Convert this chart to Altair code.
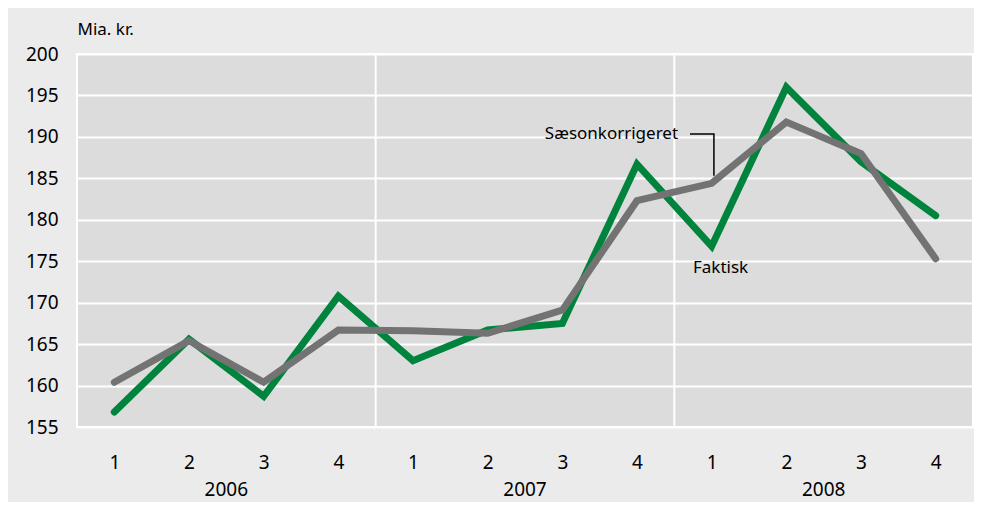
import altair as alt
import pandas as pd

quarters = ["1", "2", "3", "4"]
years = ["2006", "2007", "2008"]
faktisk = [156.8, 165.6, 158.7, 170.8, 163.0, 166.7, 167.5, 186.7, 176.8, 196.0, 187.0, 180.5]
saeson = [160.4, 165.4, 160.4, 166.7, 166.6, 166.3, 169.1, 182.3, 184.4, 191.8, 188.0, 175.3]
y_ticks = [155, 160, 165, 170, 175, 180, 185, 190, 195, 200]

FONT = "Noto Sans, sans-serif"
GREEN = "#00843d"
GREY = "#737373"

rows = []
for i, v in enumerate(faktisk):
    rows.append({"idx": i, "value": v, "serie": "Faktisk"})
for i, v in enumerate(saeson):
    rows.append({"idx": i, "value": v, "serie": "Sæsonkorrigeret"})
df = pd.DataFrame(rows)

n = len(faktisk)
xscale = alt.Scale(domain=[-0.5, n - 0.5], nice=False, zero=False)
yscale = alt.Scale(domain=[155, 200], nice=False, zero=False)

label_arr = "[" + ",".join("'%s'" % q for q in quarters) + "]"

x_axis = alt.Axis(values=list(range(n)), labelExpr=label_arr + "[datum.value % 4]",
                  grid=False, ticks=False, tickSize=0, domain=False, labelPadding=35,
                  labelBaseline="middle", labelFontSize=19, labelFont=FONT, labelColor="#000",
                  title=None)
y_axis = alt.Axis(values=y_ticks, grid=True, gridColor="white", gridWidth=2,
                  ticks=False, tickSize=0, domain=False, labelPadding=19,
                  labelFontSize=19, labelFont=FONT, labelColor="#000",
                  title="Mia. kr.", titleAngle=0, titleAlign="left", titleX=0, titleY=-25,
                  titleBaseline="middle", titleFont=FONT, titleFontSize=17,
                  titleFontWeight="normal", titleColor="#000")

sep_df = pd.DataFrame({"x": [3.5, 7.5]})
seps = alt.Chart(sep_df).mark_rule(color="white", strokeWidth=2).encode(
    x=alt.X("x:Q", scale=xscale, axis=x_axis)
)

green_line = alt.Chart(df[df.serie == "Faktisk"]).mark_line(
    strokeWidth=7, strokeCap="round", strokeJoin="miter", color=GREEN).encode(
    x=alt.X("idx:Q", scale=xscale, axis=x_axis),
    y=alt.Y("value:Q", scale=yscale, axis=y_axis),
)
grey_line = alt.Chart(df[df.serie == "Sæsonkorrigeret"]).mark_line(
    strokeWidth=7, strokeCap="round", strokeJoin="miter", color=GREY).encode(
    x=alt.X("idx:Q", scale=xscale),
    y=alt.Y("value:Q", scale=yscale),
)

leader_df = pd.DataFrame({"x": [7.71, 8.03, 8.03], "y": [190.35, 190.35, 185.3], "o": [0, 1, 2]})
leader = alt.Chart(leader_df).mark_line(color="black", strokeWidth=1.5, strokeJoin="miter").encode(
    x=alt.X("x:Q", scale=xscale), y=alt.Y("y:Q", scale=yscale), order="o:Q"
)

ann1 = alt.Chart(pd.DataFrame({"x": [7.55], "y": [190.35], "t": ["Sæsonkorrigeret"]})).mark_text(
    align="right", baseline="middle", font=FONT, fontSize=17, color="#000").encode(
    x=alt.X("x:Q", scale=xscale), y=alt.Y("y:Q", scale=yscale), text="t:N")
ann2 = alt.Chart(pd.DataFrame({"x": [7.75], "y": [174.2], "t": ["Faktisk"]})).mark_text(
    align="left", baseline="middle", font=FONT, fontSize=17, color="#000").encode(
    x=alt.X("x:Q", scale=xscale), y=alt.Y("y:Q", scale=yscale), text="t:N")

year_df = pd.DataFrame({"x": [1.5, 5.5, 9.5], "t": years})
year_txt = alt.Chart(year_df).mark_text(
    align="center", baseline="middle", font=FONT, fontSize=19, color="#000").encode(
    x=alt.X("x:Q", scale=xscale), y=alt.value(436), text="t:N")

chart = alt.layer(seps, green_line, grey_line, leader, ann1, ann2, year_txt).properties(
    width=896, height=373,
    background="#ebebeb",
    padding={"left": 69, "top": 46, "right": 1, "bottom": 75},
    autosize=alt.AutoSizeParams(type="none"),
).configure_view(fill="#dcdcdc", stroke="white", strokeWidth=2)

chart.save("out.html", embed_options={"renderer": "svg", "actions": False})
